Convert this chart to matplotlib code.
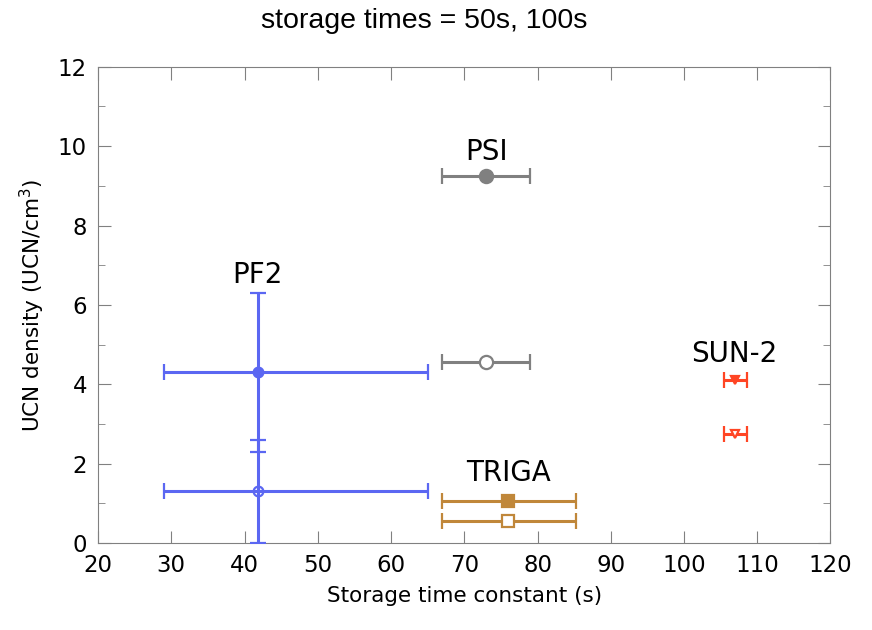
import matplotlib.pyplot as plt
import numpy as np

# PF2 (blue), PSI (gray), TRIGA (orange), SUN-2 (red); filled = 50 s, open = 100 s
pf2_x = [41.8, 41.8]
pf2_y = [4.3, 1.3]
pf2_xlo = [12.8, 12.8]
pf2_xhi = [23.2, 23.2]
pf2_ylo = [2.0, 1.3]
pf2_yhi = [2.0, 1.3]

psi_x = [73, 73]
psi_y = [9.25, 4.55]
psi_xerr = [6, 6]

triga_x = [76, 76]
triga_y = [1.05, 0.55]
triga_xlo = [9, 9]
triga_xhi = [9.2, 9.2]

sun_x = [107, 107]
sun_y = [4.1, 2.75]
sun_xerr = [1.6, 1.6]

labels = ["PF2", "PSI", "TRIGA", "SUN-2"]
label_x = [41.8, 73, 76, 106.9]
label_y = [6.55, 9.65, 1.56, 4.56]

fig = plt.figure(figsize=(8.72, 6.3), dpi=100)
ax = fig.add_axes([0.1124, 0.138, 0.84, 0.756])

def draw(x, y, xerr, yerr, color, marker, ms, hollow="white"):
    for i in range(2):
        xe = None if xerr is None else [[xerr[0][i]], [xerr[1][i]]]
        ye = None if yerr is None else [[yerr[0][i]], [yerr[1][i]]]
        face = color if i == 0 else hollow
        ax.errorbar([x[i]], [y[i]], xerr=xe, yerr=ye, fmt=marker, color=color,
                    mfc=face, mec=color, mew=1.6, ms=ms, elinewidth=2.2,
                    capsize=6, capthick=2.2, zorder=3)

blue = "#5b67f2"
gray = "#808080"
orange = "#c0873a"
red = "#ff4524"

draw(pf2_x, pf2_y, [pf2_xlo, pf2_xhi], [pf2_ylo, pf2_yhi], blue, "o", 7, "none")
draw(psi_x, psi_y, [psi_xerr, psi_xerr], None, gray, "o", 9.5)
draw(triga_x, triga_y, [triga_xlo, triga_xhi], None, orange, "s", 9)
draw(sun_x, sun_y, [sun_xerr, sun_xerr], None, red, "v", 6)

for t, lx, ly in zip(labels, label_x, label_y):
    ax.text(lx, ly, t, ha="center", va="baseline", fontsize=20, color="black")

ax.set_xlim(20, 120)
ax.set_ylim(0, 12)
ax.set_xticks(np.arange(20, 121, 10))
ax.set_yticks(np.arange(0, 13, 2))
ax.set_yticks(np.arange(1, 12, 2), minor=True)
ax.tick_params(which="both", direction="in", top=True, right=True,
               color="#808080", labelsize=16.5, pad=8)
ax.tick_params(which="major", length=9)
ax.tick_params(which="minor", length=5)
for s in ax.spines.values():
    s.set_color("#808080")

ax.set_xlabel("Storage time constant (s)", fontsize=15.5, labelpad=6)
ax.set_ylabel("UCN density (UCN/cm$^3$)", fontsize=15.5, labelpad=8)
fig.text(0.487, 0.967, "storage times = 50s, 100s", ha="center", va="center",
         fontsize=20.5, family="Liberation Sans")

fig.savefig("out.png", dpi=100)
